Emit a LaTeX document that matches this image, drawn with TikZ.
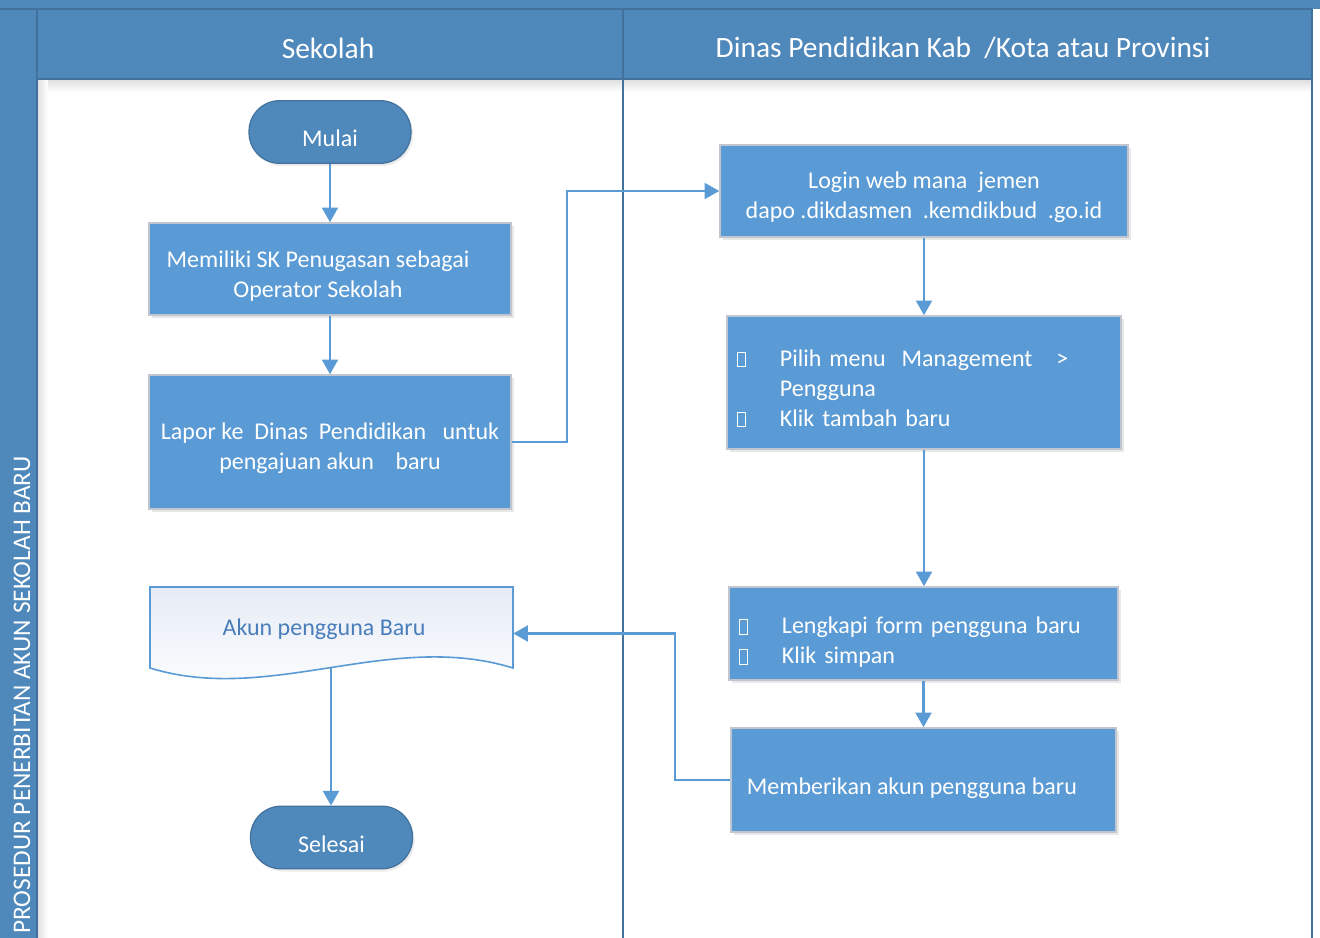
\documentclass[tikz,border=0pt]{standalone}
\usepackage{fontspec}
\setmainfont{Carlito}
\usetikzlibrary{arrows.meta,shadows,calc}

\definecolor{poolblue}{HTML}{4F88BB}
\definecolor{lineblue}{HTML}{41719C}
\definecolor{boxblue}{HTML}{5B9BD5}
\definecolor{boxedge}{HTML}{BFC6CF}
\definecolor{doctext}{HTML}{4A7EBB}
\definecolor{docfill}{HTML}{E6ECF6}

% hollow bullet square
\newcommand{\bx}{\textcolor{white}{\fboxsep=0pt\fboxrule=0.8pt\fbox{\rule{0pt}{10pt}\hspace{5.5pt}}}}
\newcommand{\bitem}[1]{\makebox[32.25pt][l]{\bx}#1}

\begin{document}
\begin{tikzpicture}[x=0.75pt,y=-0.75pt,
  boxtext/.style={font=\fontsize{18}{22.5}\selectfont, text=white},
  headtext/.style={font=\fontsize{22.1}{26}\selectfont, text=white},
  process/.style={rectangle, fill=boxblue, draw=boxedge, line width=1.2pt, inner sep=0pt,
    drop shadow={opacity=0.18, shadow xshift=2pt, shadow yshift=-2.5pt}},
  terminal/.style={rectangle, rounded corners=23pt, fill=poolblue, draw=lineblue,
    line width=0.9pt, minimum width=121.5pt, minimum height=47pt, inner sep=0pt,
    drop shadow={opacity=0.15, shadow xshift=1.5pt, shadow yshift=-2pt}},
  % centred caption of a box, set a little below the middle
  ctext/.style={label={[boxtext, align=center, yshift=-5pt]center:#1}},
  flow/.style={draw=boxblue, line width=1.6pt, -{Triangle[length=11pt,width=12pt]}},
  laneline/.style={draw=lineblue, line width=1.2pt},
]
\useasboundingbox (0,0) rectangle (1320,938);
\fill[white] (0,0) rectangle (1320,938);

% soft shading along the lane bodies
\shade[top color=black!13, bottom color=white] (37,79) rectangle (1312,92);
\shade[left color=black!13, right color=white] (37,79) rectangle (48,938);

% pool frame: top strip, vertical title band, lane headers
\fill[poolblue] (0,0) rectangle (1320,9);
\fill[poolblue] (0,9) rectangle (37,938);
\fill[poolblue] (37,9) rectangle (1312,79);
\draw[laneline] (0,9) -- (1312,9);
\draw[laneline] (37,9) -- (37,938);
\draw[laneline] (37,79) -- (1312,79);
\draw[laneline] (623,9) -- (623,938);
\draw[laneline] (1312,9) -- (1312,938);

\node[font=\fontsize{19}{22}\selectfont, text=white, rotate=90] (pooltitle) at (22,695)
  {PROSEDUR PENERBITAN AKUN SEKOLAH BARU};
\node[headtext] (lane1) at (328,48) {Sekolah};
\node[headtext] (lane2) at (963,48) {Dinas Pendidikan Kab\ \ /Kota atau Provinsi};

% Sekolah lane
\node[terminal, ctext={Mulai}] (mulai) at (330,132) {};
\node[process, minimum width=271.5pt, minimum height=69pt,
  label={[boxtext, align=center, yshift=-5pt, xshift=-9pt]center:Memiliki SK Penugasan sebagai\\Operator Sekolah}]
  (sk) at (330,269) {};
\node[process, minimum width=271.5pt, minimum height=100.5pt,
  ctext={Lapor ke\ \ Dinas\ \ Pendidikan\ \ \ untuk\\pengajuan akun\ \ \ \ baru}]
  (lapor) at (330,442) {};

% document shape with wavy bottom
\node[minimum width=272.25pt, minimum height=69.75pt, inner sep=0pt] (doc) at (331.5,633.5) {};
\shade[top color=docfill, bottom color=white, draw=boxblue, line width=1.2pt]
  (150,587) -- (513,587) -- (513,668)
  .. controls (390,630) and (270,705) .. (150,668) -- cycle;
\node[font=\fontsize{18}{22}\selectfont, text=doctext] (doctext) at (324,629) {Akun pengguna Baru};
\coordinate (docwave) at (331,668);

\node[terminal, ctext={Selesai}] (selesai) at (331.5,837.5) {};

% Dinas lane
\node[process, minimum width=306pt, minimum height=69pt,
  ctext={Login web mana\ \ jemen\\dapo .dikdasmen\ \ .kemdikbud\ \ .go.id}]
  (login) at (924,191) {};
\node[process, minimum width=295.5pt, minimum height=99.75pt,
  label={[boxtext, align=left, text width=280pt, anchor=west, xshift=4.5pt, yshift=-4.5pt]west:%
    \bitem{Pilih menu\ \ Management\ \ \ >}\\\hspace*{32.25pt}Pengguna\\\bitem{Klik tambah baru}}]
  (pilih) at (924,382.5) {};
\node[process, minimum width=291.75pt, minimum height=69.75pt,
  label={[boxtext, align=left, text width=276pt, anchor=west, xshift=4.5pt, yshift=-6.5pt]west:%
    \bitem{Lengkapi form pengguna baru}\\\bitem{Klik simpan}}]
  (leng) at (923.5,633.5) {};
\node[process, minimum width=288.75pt, minimum height=78pt,
  label={[boxtext, anchor=west, xshift=9pt, yshift=-6.5pt]west:Memberikan akun pengguna baru}]
  (memb) at (923.5,780) {};

% connectors
\draw[flow] (mulai.south) -- (sk.north);
\draw[flow] (sk.south) -- (lapor.north);
\draw[flow] (lapor.east) -- ++(55,0) |- (login.west);
\draw[flow] (login.south) -- (login.south |- pilih.north);
\draw[flow] (pilih.south) -- (pilih.south |- leng.north);
\draw[flow] (leng.south) -- (leng.south |- memb.north);
\draw[flow] (memb.west) -- ++(-55,0) |- (doc.east);
\draw[flow] (docwave) -- (docwave |- selesai.north);
\end{tikzpicture}
\end{document}
